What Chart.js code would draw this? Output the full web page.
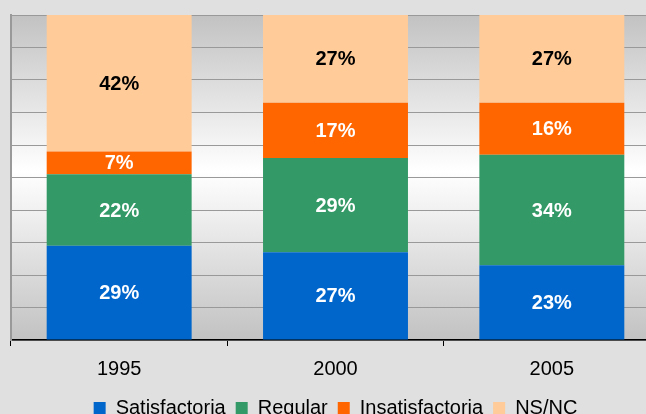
<!DOCTYPE html>
<html>
<head>
<meta charset="utf-8">
<script src="https://cdn.jsdelivr.net/npm/chart.js@4"></script>
<style>
  html, body { margin: 0; padding: 0; overflow: hidden; background: #e0e0e0; }
  #wrap { position: absolute; left: 0; top: 0; }
</style>
</head>
<body>
<div id="wrap"><canvas id="chart" width="680" height="428"></canvas></div>
<script>
const years = ["1995", "2000", "2005"];
const satisfactoria = [29, 27, 23];
const regular = [22, 29, 34];
const insatisfactoria = [7, 17, 16];
const nsnc = [42, 27, 27];

const font = "'Liberation Sans', Arial, sans-serif";

// plot area background: grey - white - grey
const backdrop = {
    id: 'backdrop',
    beforeDraw(chart) {
        const {ctx, chartArea: a} = chart;
        ctx.save();
        ctx.fillStyle = '#e0e0e0';
        ctx.fillRect(0, 0, chart.width, chart.height);
        const g = ctx.createLinearGradient(0, a.top, 0, a.bottom);
        g.addColorStop(0, '#c2c2c2');
        g.addColorStop(0.48, '#ffffff');
        g.addColorStop(1, '#c2c2c2');
        ctx.fillStyle = g;
        ctx.fillRect(a.left, a.top, a.right - a.left, a.bottom - a.top);
        ctx.restore();
    }
};

// percentage labels in the middle of each segment
const segLabels = {
    id: 'segLabels',
    afterDatasetsDraw(chart) {
        const ctx = chart.ctx;
        ctx.save();
        ctx.font = 'bold 20px ' + font;
        ctx.textAlign = 'center';
        ctx.textBaseline = 'middle';
        chart.data.datasets.forEach((ds, i) => {
            chart.getDatasetMeta(i).data.forEach((bar, j) => {
                ctx.fillStyle = ds.labelColor;
                ctx.fillText(ds.data[j] + '%', bar.x, (bar.y + bar.base) / 2 + 1);
            });
        });
        ctx.restore();
    }
};

new Chart(document.getElementById('chart'), {
    type: 'bar',
    data: {
        labels: years,
        datasets: [
            {label: 'Satisfactoria', data: satisfactoria, backgroundColor: '#0066cc', labelColor: '#ffffff'},
            {label: 'Regular', data: regular, backgroundColor: '#339966', labelColor: '#ffffff'},
            {label: 'Insatisfactoria', data: insatisfactoria, backgroundColor: '#ff6600', labelColor: '#ffffff'},
            {label: 'NS/NC', data: nsnc, backgroundColor: '#ffcc99', labelColor: '#000000'}
        ]
    },
    options: {
        responsive: false,
        animation: false,
        events: [],
        layout: {padding: {left: 11, top: 15, right: 20, bottom: 0}},
        datasets: {bar: {categoryPercentage: 0.67, barPercentage: 1}},
        scales: {
            x: {
                stacked: true,
                grid: {drawOnChartArea: false, drawTicks: true, tickLength: 6, color: '#000000', offset: true},
                border: {color: '#000000', width: 1.5},
                ticks: {color: '#000000', font: {family: font, size: 20}, padding: 11},
                afterFit: (scale) => { scale.height -= 4; }
            },
            y: {
                stacked: true,
                min: 0,
                max: 100,
                ticks: {display: false, stepSize: 10},
                grid: {color: '#999999', lineWidth: 1, drawTicks: false},
                border: {color: '#999999', width: 2}
            }
        },
        plugins: {
            legend: {
                position: 'bottom',
                labels: {
                    boxWidth: 12,
                    boxHeight: 12,
                    padding: 10,
                    color: '#000000',
                    font: {family: font, size: 20}
                }
            },
            tooltip: {enabled: false}
        }
    },
    plugins: [backdrop, segLabels]
});
</script>
</body>
</html>
